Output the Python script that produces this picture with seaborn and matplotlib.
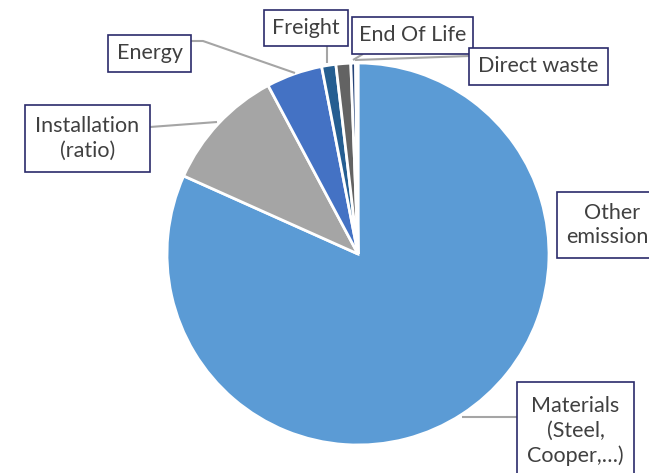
import matplotlib
matplotlib.use("Agg")
import matplotlib.pyplot as plt
from matplotlib.patches import Rectangle
import seaborn as sns

# Share of emissions by source (%)
categories = ['Materials\n(Steel,\nCooper,…)', 'Installation\n(ratio)', 'Energy', 'Freight',
              'End Of Life', 'Direct waste', 'Other\nemissions']
shares = [81.7, 10.5, 4.75, 1.2, 1.25, 0.4, 0.2]
colors = ['#5B9BD5', '#A5A5A5', '#4472C4', '#255E91', '#636363', '#264478', '#9E480E']

sns.set_style("white")
plt.rcParams['font.family'] = ['Lato', 'DejaVu Sans']

W, H = 649, 473
fig = plt.figure(figsize=(W / 100, H / 100), dpi=100)
ax = fig.add_axes([0, 0, 1, 1])
ax.set_xlim(0, W)
ax.set_ylim(0, H)
ax.set_aspect('equal')
ax.axis('off')

# pie, centre and radius in pixel space (y measured from the top)
cx, cy, r = 358, 254, 191
ax.pie(shares, colors=sns.color_palette(colors), startangle=90, counterclock=False,
       center=(cx, H - cy), radius=r, frame=True,
       wedgeprops=dict(edgecolor='white', linewidth=2))
ax.set_xlim(0, W)
ax.set_ylim(0, H)
ax.axis('off')

# label boxes: (left, top, right, bottom) in pixels, text centre
boxes = {
    'Materials\n(Steel,\nCooper,…)': ((517, 382, 634, 490), (575.5, 431)),
    'Installation\n(ratio)': ((25, 105, 150, 172), (87.5, 138.5)),
    'Energy': ((108, 35, 191, 72), (150, 53.5)),
    'Freight': ((264, 10, 348, 46), (306, 28)),
    'End Of Life': ((352, 17, 473, 54), (412.5, 35.5)),
    'Direct waste': ((469, 48, 608, 85), (538.5, 66.5)),
    'Other\nemissions': ((557, 192, 667, 258), (612, 225)),
}

# leader lines from the slices to the boxes
leaders = [
    [(462, 417), (517, 417)],
    [(217, 122), (150, 127)],
    [(295, 73), (203, 41), (191, 41)],
    [(327, 63), (327, 46)],
    [(353, 60), (363, 54)],
    [(355, 60), (469, 56)],
]
for pts in leaders:
    xs = [p[0] for p in pts]
    ys = [H - p[1] for p in pts]
    ax.plot(xs, ys, color='#A5A5A5', lw=1.5, zorder=3, solid_capstyle='butt')

for name in categories:
    (l, t, rgt, b), (tx, ty) = boxes[name]
    ax.add_patch(Rectangle((l, H - b), rgt - l, b - t, facecolor='white',
                           edgecolor='#2B2B6B', lw=1.2, zorder=4))
    ax.text(tx, H - ty, name, ha='center', va='center', fontsize=15.5,
            color='#404040', linespacing=1.3, zorder=5)

fig.savefig('out.png', dpi=100)
